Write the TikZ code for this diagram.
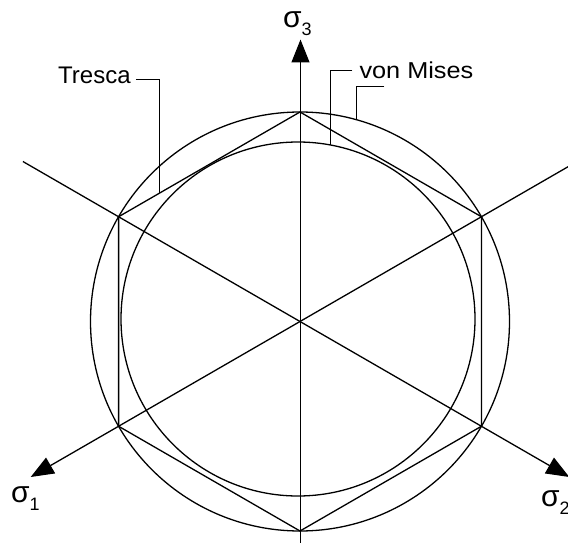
\documentclass[tikz,border=0pt]{standalone}
\usepackage{fontspec}
\setmainfont{Liberation Sans}
\usetikzlibrary{arrows.meta,calc}
\newcommand\sigmalabel[1]{{\fontsize{30}{30}\selectfont σ}\raisebox{-8pt}{\fontsize{18}{18}\selectfont #1}}
\begin{document}
\begin{tikzpicture}[x=1pt,y=-1pt,
  ln/.style={line width=1.3pt},
  axisarrow/.style={ln,-{Triangle[length=23pt,width=18pt]}},
  lbl/.style={inner sep=0pt,anchor=base west},
  leader/.style={line width=0.9pt}]
\useasboundingbox (0,0) rectangle (568,543);
\clip (0,0) rectangle (568,543);
% centre and geometry
\coordinate (C) at (300,321.5);
\coordinate (IC) at (298,319);
% hexagon vertices (Tresca)
\coordinate (H1) at (300,112);
\coordinate (H2) at (481.4,216.75);
\coordinate (H3) at (481.4,426.25);
\coordinate (H4) at (300,531);
\coordinate (H5) at (118.6,426.25);
\coordinate (H6) at (118.6,216.75);
% axis ends
\coordinate (A3) at (300.5,39.5);
\coordinate (A3b) at (300.5,546);
\coordinate (A1) at (30.7,477);
\coordinate (A2) at (569.3,477);
\coordinate (UL) at (22.9,161.5);
\coordinate (UR) at (577.1,161.5);
% circles
\draw[ln] (C) circle[radius=209.5];
\draw[ln] (IC) circle[radius=177];
% hexagon
\draw[ln] (H1) -- (H2) -- (H3) -- (H4) -- (H5) -- (H6) -- cycle;
% axes
\draw[axisarrow] (A3b) -- (A3);
\draw[axisarrow] (UR) -- (A1);
\draw[axisarrow] (UL) -- (A2);
% labels
\node[lbl] (s3) at (283,28) {\sigmalabel{3}};
\node[lbl] (s1) at (11,502) {\sigmalabel{1}};
\node[lbl] (s2) at (541,506) {\sigmalabel{2}};
\node[lbl,font=\fontsize{24}{24}\selectfont] (tresca) at (58,83.3) {Tresca};
\node[lbl,font=\fontsize{23}{23}\selectfont] (vm) at (359.3,78.5) {\scalebox{1.1}[1]{von Mises}};
% leader lines
\coordinate (tp) at ($(H6)!0.225!(H1)$);
\coordinate (vmin) at ($(IC)+(32,-174.1)$);
\coordinate (vmout) at ($(C)+(56.7,-201.7)$);
\draw[leader] ($(tresca.base east)+(5pt,4pt)$) -| (tp);
\draw[leader] ($(vm.base west)+(-7pt,8pt)$) -| (vmin);
\draw[leader] ($(vm.base west)+(25pt,-7.5pt)$) -| (vmout);
\end{tikzpicture}
\end{document}
